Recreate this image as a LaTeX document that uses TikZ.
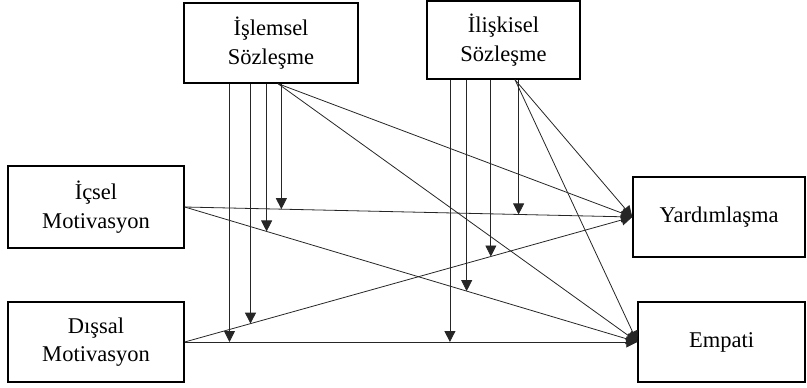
\documentclass[tikz,border=0pt]{standalone}
\usepackage{fontspec}
\setmainfont{Liberation Serif}
\usetikzlibrary{arrows.meta}
\begin{document}
\begin{tikzpicture}[x=1pt,y=-1pt,
  box/.style={draw=black,line width=1.4pt,fill=white,inner sep=0pt,align=center,
    font=\fontsize{22.5}{28.5}\selectfont},
  link/.style={draw=black!85,line width=0.8pt},
  arr/.style={link,-{Triangle[length=11pt,width=11pt]}}]
\useasboundingbox (0,0) rectangle (807,388);
% boxes
\node[box,minimum width=174pt,minimum height=80pt] (isl) at (271,43) {İşlemsel\\Sözleşme};
\node[box,minimum width=153pt,minimum height=78pt] (ilk) at (503.5,40) {İlişkisel\\Sözleşme};
\node[box,minimum width=176pt,minimum height=82pt] (ic) at (96,207) {İçsel\\Motivasyon};
\node[box,minimum width=176pt,minimum height=80pt] (dis) at (96,342) {Dışsal\\Motivasyon};
\node[box,minimum width=172pt,minimum height=80pt] (yard) at (719,217) {Yardımlaşma};
\node[box,minimum width=167pt,minimum height=80pt] (emp) at (721.5,342) {Empati};
% origins of diagonal links
\coordinate (isl0) at ([xshift=7pt]isl.south);
\coordinate (ilk0) at ([xshift=11.5pt]ilk.south);
% main paths
\draw[arr] (ic.east) -- (yard.west) coordinate[pos=0.216] (m1) coordinate[pos=0.746] (m2);
\draw[arr] (ic.east) -- (emp.west) coordinate[pos=0.181] (m3) coordinate[pos=0.623] (m4);
\draw[arr] (dis.east) -- (yard.west) coordinate[pos=0.147] (m5) coordinate[pos=0.684] (m6);
\draw[arr] (dis.east) -- (emp.west) coordinate[pos=0.099] (m7) coordinate[pos=0.586] (m8);
\draw[arr] (isl0) -- (yard.west);
\draw[arr] (isl0) -- (emp.west);
\draw[arr] (ilk0) -- (yard.west);
\draw[arr] (ilk0) -- (emp.west);
% moderation arrows
\draw[arr] (m1 |- isl.south) -- (m1);
\draw[arr] (m3 |- isl.south) -- (m3);
\draw[arr] (m5 |- isl.south) -- (m5);
\draw[arr] (m7 |- isl.south) -- (m7);
\draw[arr] (m2 |- ilk.south) -- (m2);
\draw[arr] (m4 |- ilk.south) -- (m4);
\draw[arr] (m6 |- ilk.south) -- (m6);
\draw[arr] (m8 |- ilk.south) -- (m8);
\end{tikzpicture}
\end{document}
